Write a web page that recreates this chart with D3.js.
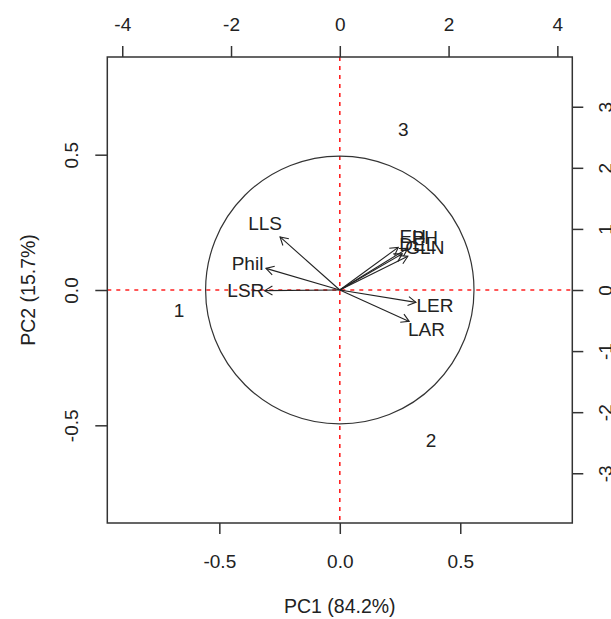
<!DOCTYPE html>
<html>
<head>
<meta charset="utf-8">
<script src="https://cdn.jsdelivr.net/npm/d3@7"></script>
<style>
  body { margin: 0; background: #fff; }
  text { font-family: "Liberation Sans", Arial, sans-serif; fill: #222; }
</style>
</head>
<body>
<svg id="chart" width="611" height="619"></svg>
<script>
// variable loadings (label positions, bottom/left axes)
const varNames = ["LLS", "Phil", "LSR", "LER", "LAR", "EH", "PH", "DEL", "GLN"];
const varPC1 = [-0.31, -0.383, -0.39, 0.395, 0.36, 0.303, 0.353, 0.324, 0.353];
const varPC2 = [0.245, 0.10, -0.003, -0.057, -0.145, 0.197, 0.193, 0.167, 0.156];

// sample scores (top/right axes)
const obsNames = ["1", "2", "3"];
const obsPC1 = [-2.956, 1.676, 1.167];
const obsPC2 = [-0.339, -2.455, 2.63];

const bottomTicks = [-0.5, 0, 0.5];
const leftTicks = [-0.5, 0, 0.5];
const topTicks = [-4, -2, 0, 2, 4];
const rightTicks = [-3, -2, -1, 0, 1, 2, 3];
const circleRadii = [0.557, 0.495];

const xLab = "PC1 (84.2%)";
const yLab = "PC2 (15.7%)";

const margin = {top: 57, right: 38.7, bottom: 96, left: 107.3};
const width = 611 - margin.left - margin.right;
const height = 619 - margin.top - margin.bottom;

const svg = d3.select("#chart");
const g = svg.append("g")
  .attr("transform", "translate(" + margin.left + "," + margin.top + ")");

const x = d3.scaleLinear().domain([-0.965, 0.965]).range([0, width]);
const y = d3.scaleLinear().domain([-0.861, 0.861]).range([height, 0]);
const xTop = d3.scaleLinear().domain([-4.275, 4.275]).range([0, width]);
const yRight = d3.scaleLinear().domain([-3.814, 3.814]).range([height, 0]);

// reference lines
g.append("line")
  .attr("x1", 0).attr("x2", width)
  .attr("y1", y(0)).attr("y2", y(0))
  .attr("stroke", "#ff2020").attr("stroke-width", 1.6)
  .attr("stroke-dasharray", "4,5");
g.append("line")
  .attr("x1", x(0)).attr("x2", x(0))
  .attr("y1", 0).attr("y2", height)
  .attr("stroke", "#ff2020").attr("stroke-width", 1.6)
  .attr("stroke-dasharray", "4,5");

// circle
g.append("ellipse")
  .attr("cx", x(0)).attr("cy", y(0))
  .attr("rx", x(circleRadii[0]) - x(0))
  .attr("ry", y(0) - y(circleRadii[1]))
  .attr("fill", "none").attr("stroke", "#333").attr("stroke-width", 1.2);

// sample labels
obsNames.forEach((n, i) => {
  g.append("text")
    .attr("x", xTop(obsPC1[i]))
    .attr("y", yRight(obsPC2[i]))
    .attr("dy", "0.35em")
    .attr("text-anchor", "middle")
    .style("font-size", "19px")
    .text(n);
});

// variable arrows (to 0.8 of loading), labels at the loading
const headLen = 9;
varNames.forEach((n, i) => {
  const x0 = x(0), y0 = y(0);
  const x1 = x(varPC1[i] * 0.8), y1 = y(varPC2[i] * 0.8);
  const ang = Math.atan2(y1 - y0, x1 - x0);
  g.append("line")
    .attr("x1", x0).attr("y1", y0).attr("x2", x1).attr("y2", y1)
    .attr("stroke", "#222").attr("stroke-width", 1.1);
  const a1 = ang + Math.PI - Math.PI / 6;
  const a2 = ang + Math.PI + Math.PI / 6;
  g.append("path")
    .attr("d", "M" + (x1 + headLen * Math.cos(a1)) + "," + (y1 + headLen * Math.sin(a1)) +
      "L" + x1 + "," + y1 +
      "L" + (x1 + headLen * Math.cos(a2)) + "," + (y1 + headLen * Math.sin(a2)))
    .attr("fill", "none").attr("stroke", "#222").attr("stroke-width", 1.1);
  g.append("text")
    .attr("x", x(varPC1[i]))
    .attr("y", y(varPC2[i]))
    .attr("dy", "0.35em")
    .attr("text-anchor", "middle")
    .style("font-size", "19px")
    .text(n);
});

// axes (R style hyphen minus)
const fmt1 = d => d3.format(".1f")(d).replace("\u2212", "-");
const fmtInt = d => d3.format("d")(d).replace("\u2212", "-");
function styleAxis(sel) {
  sel.select(".domain").remove();
  sel.selectAll(".tick line").attr("stroke", "#333").attr("stroke-width", 1.5);
  sel.selectAll(".tick text").style("font-size", "19px").attr("fill", "#222");
}

const axBottom = g.append("g")
  .attr("transform", "translate(0," + height + ")")
  .call(d3.axisBottom(x).tickValues(bottomTicks).tickFormat(fmt1).tickSize(11).tickSizeOuter(0));
styleAxis(axBottom);
axBottom.selectAll(".tick text").attr("y", 45).attr("dy", 0);

const axTop = g.append("g")
  .call(d3.axisTop(xTop).tickValues(topTicks).tickFormat(fmtInt).tickSize(11).tickSizeOuter(0));
styleAxis(axTop);
axTop.selectAll(".tick text").attr("y", -26).attr("dy", 0);

const axLeft = g.append("g")
  .call(d3.axisLeft(y).tickValues(leftTicks).tickFormat(fmt1).tickSize(12).tickSizeOuter(0));
styleAxis(axLeft);
axLeft.selectAll(".tick text")
  .attr("x", 0).attr("y", 0).attr("dy", "0.35em")
  .attr("text-anchor", "middle")
  .attr("transform", "translate(-36,0) rotate(-90)");

const axRight = g.append("g")
  .attr("transform", "translate(" + width + ",0)")
  .call(d3.axisRight(yRight).tickValues(rightTicks).tickFormat(fmtInt).tickSize(11).tickSizeOuter(0));
styleAxis(axRight);
axRight.selectAll(".tick text")
  .attr("x", 0).attr("y", 0).attr("dy", "0.35em")
  .attr("text-anchor", "middle")
  .attr("transform", "translate(33,0) rotate(-90)");

// box
g.append("rect")
  .attr("width", width).attr("height", height)
  .attr("fill", "none").attr("stroke", "#333").attr("stroke-width", 1.5);

// axis titles
svg.append("text")
  .attr("x", margin.left + width / 2)
  .attr("y", 613)
  .attr("text-anchor", "middle")
  .style("font-size", "19.5px")
  .text(xLab);

svg.append("text")
  .attr("transform", "translate(35," + (margin.top + height / 2) + ") rotate(-90)")
  .attr("text-anchor", "middle")
  .style("font-size", "19.5px")
  .text(yLab);
</script>
</body>
</html>
